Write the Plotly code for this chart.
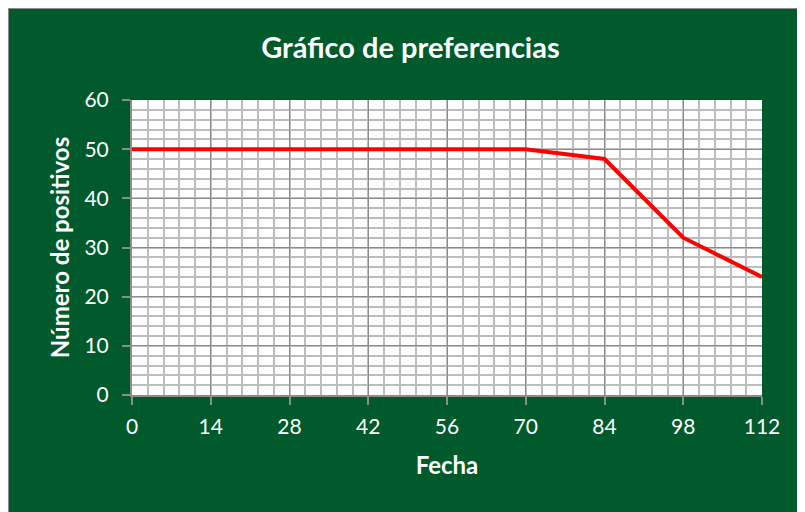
import plotly.graph_objects as go

# data
fecha = [0, 14, 28, 42, 56, 70, 84, 98, 112]
positivos = [50, 50, 50, 50, 50, 50, 48, 32, 24]
x_ticks = [0, 14, 28, 42, 56, 70, 84, 98, 112]
y_ticks = [0, 10, 20, 30, 40, 50, 60]

green = "#005A2B"
font_family = "Lato, 'Open Sans', sans-serif"

fig = go.Figure(go.Scatter(
    x=fecha, y=positivos, mode="lines",
    line=dict(color="#FF0000", width=4),
    showlegend=False, hoverinfo="x+y",
))

axis_common = dict(
    showgrid=True, gridcolor="#8C8C8C", gridwidth=1.3,
    showline=True, linecolor="#8C8C8C", linewidth=2,
    ticks="outside", ticklen=8, tickwidth=1.5, tickcolor="#8C8C8C",
    tickfont=dict(color="white", size=21, family=font_family),
    zeroline=False,
)

fig.update_xaxes(
    range=[0, 112], tickmode="array", tickvals=x_ticks, ticklabelstandoff=4,
    title=dict(text="<b>Fecha</b>", font=dict(color="white", size=24, family=font_family), standoff=20),
    minor=dict(dtick=2.8, showgrid=True, gridcolor="#BDBDBD", gridwidth=1.5),
    **axis_common,
)
fig.update_yaxes(
    range=[0, 60], tickmode="array", tickvals=y_ticks, ticklabelstandoff=9,
    title=dict(text="<b>Número de positivos</b>", font=dict(color="white", size=24, family=font_family), standoff=8),
    minor=dict(dtick=2, showgrid=True, gridcolor="#BDBDBD", gridwidth=1.5),
    **axis_common,
)

# page body has an 8px margin, so the plot area sits at 124..754 x 92..387 in the figure
fig.update_layout(
    width=805, height=512,
    margin=dict(l=124, r=51, t=92, b=125),
    paper_bgcolor=green, plot_bgcolor="white",
    title=dict(text="<b>Gráfico de preferencias</b>", x=0.5, xanchor="center", y=0.922, yanchor="middle",
               font=dict(color="white", size=29, family=font_family)),
    shapes=[dict(type="rect", xref="paper", yref="paper",
                 x0=-124 / 630, x1=1.5, y0=-0.5, y1=1 + 92 / 295,
                 line=dict(color="#8C8C8C", width=2), layer="above")],
)

fig.write_html("out.html")
